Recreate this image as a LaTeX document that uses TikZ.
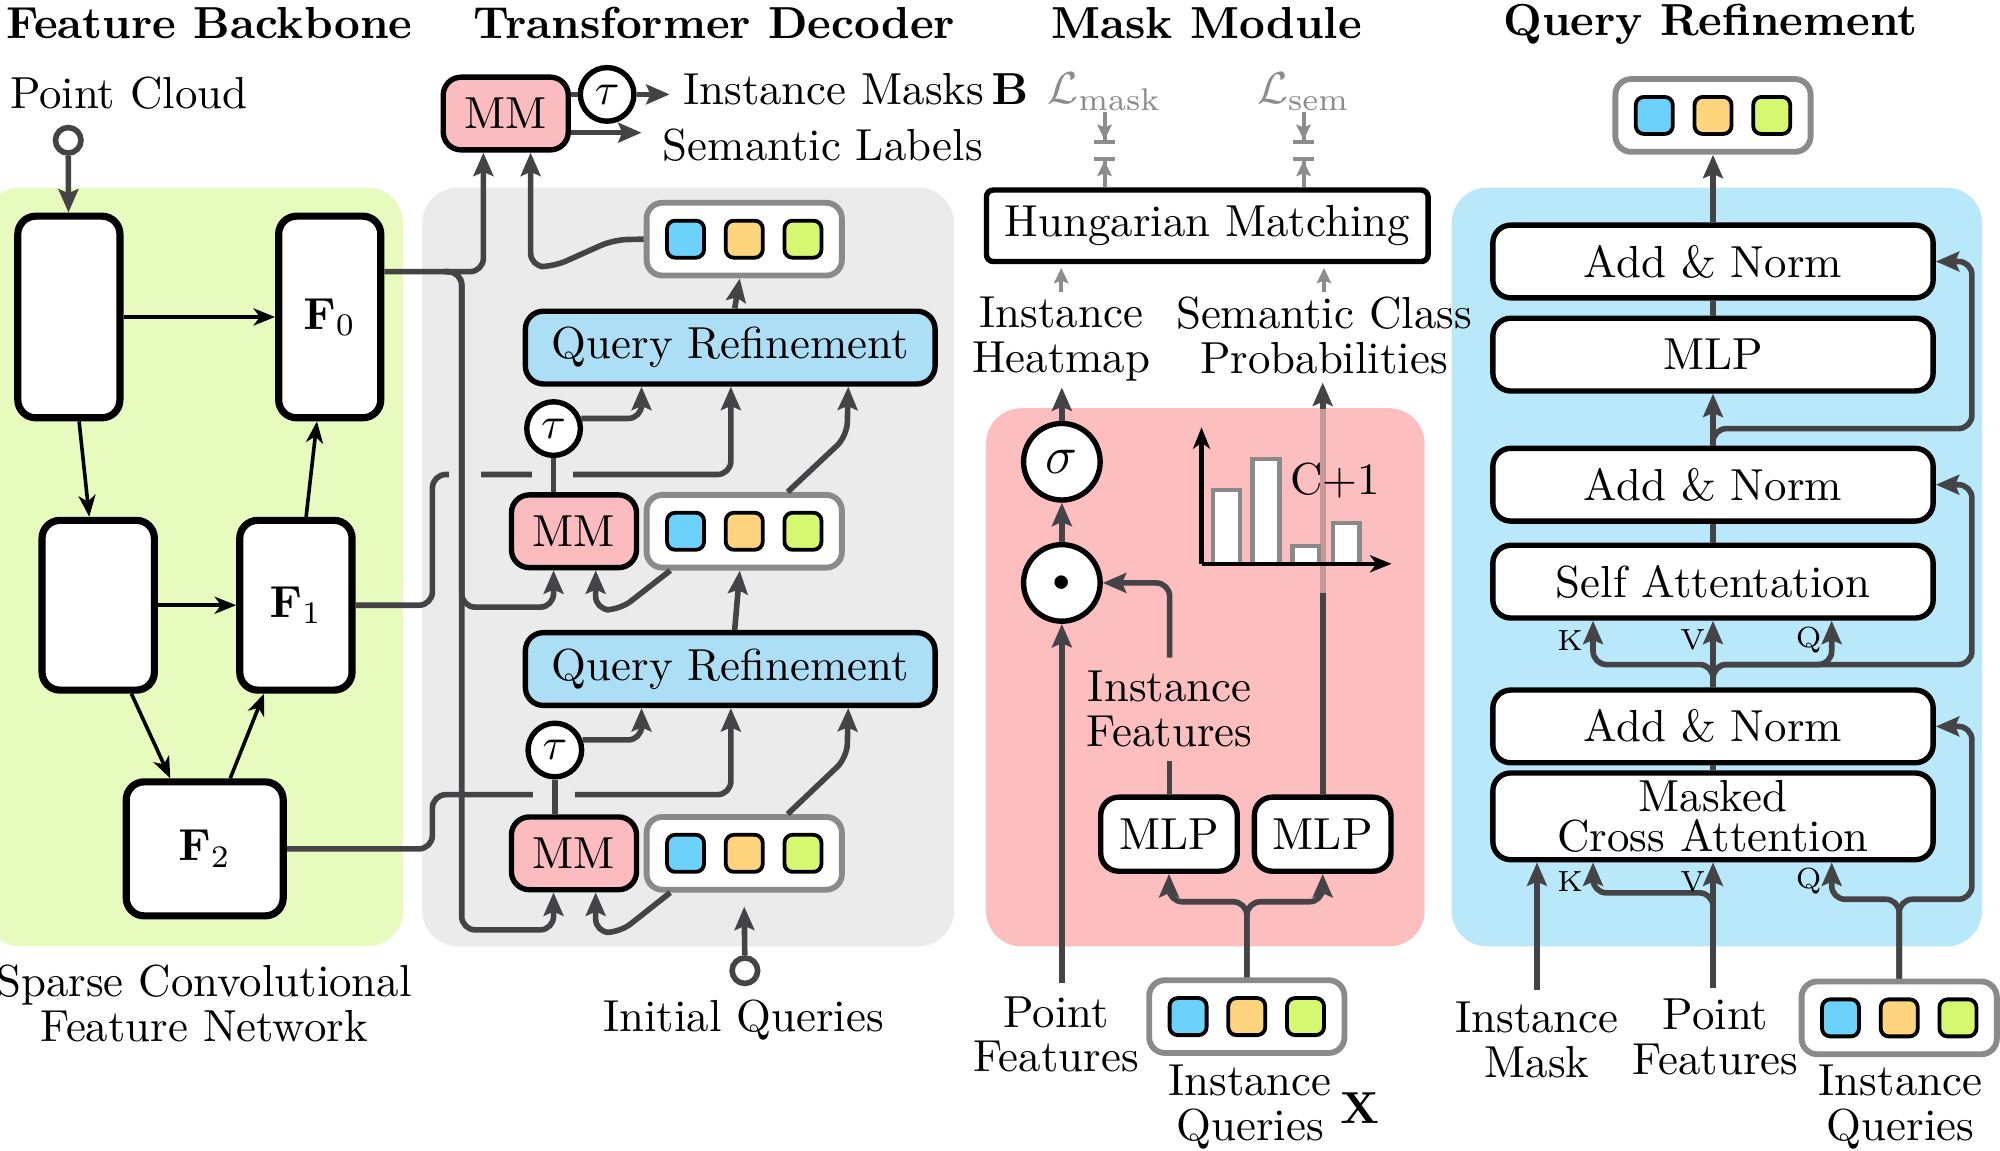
\documentclass[tikz,border=0pt]{standalone}
\usepackage{amsmath}
\usepackage{amssymb}
\usepackage{tikz}
\usetikzlibrary{arrows.meta}

\definecolor{lineg}{RGB}{68,68,70}
\definecolor{greenbg}{RGB}{232,251,190}
\definecolor{graybg}{RGB}{235,235,235}
\definecolor{pinkbg}{RGB}{252,190,190}
\definecolor{bluebg}{RGB}{186,232,251}
\definecolor{mmpink}{RGB}{250,188,190}
\definecolor{qrblue}{RGB}{172,222,246}
\definecolor{sqblue}{RGB}{108,210,252}
\definecolor{sqorange}{RGB}{254,212,124}
\definecolor{sqgreen}{RGB}{214,247,112}
\definecolor{qedge}{RGB}{138,138,138}
\definecolor{lossgray}{RGB}{140,140,140}

\newcommand{\querybox}[2]{%
  \node[qbox] (#1) at (#2) {};
  \node[sq,fill=sqblue] at ([xshift=-0.46cm]#1.center) {};
  \node[sq,fill=sqorange] at (#1.center) {};
  \node[sq,fill=sqgreen] at ([xshift=0.46cm]#1.center) {};
}

\begin{document}
\begin{tikzpicture}[x=0.01cm,y=-0.01cm,font=\fontsize{10}{10}\selectfont]
\tikzstyle{every node}+=[inner sep=0pt]
\tikzstyle{conn}=[draw=lineg,line width=1.25pt,rounded corners=3pt]
\tikzstyle{arr}=[-{Stealth[length=5.2pt,width=4.4pt,inset=0.9pt]}]
\tikzstyle{thinarr}=[draw=black,line width=0.8pt,-{Stealth[length=4.8pt,width=3.8pt,inset=1.4pt]}]
\tikzstyle{fnet}=[draw,line width=1.6pt,rounded corners=4pt,fill=white]
\tikzstyle{mmbox}=[draw,line width=1.2pt,rounded corners=4pt,fill=mmpink,minimum width=0.98cm,minimum height=0.57cm]
\tikzstyle{qrbox}=[draw,line width=1.2pt,rounded corners=4pt,fill=qrblue,minimum width=3.21cm,minimum height=0.57cm]
\tikzstyle{taunode}=[circle,draw,line width=1.2pt,fill=white,minimum size=0.42cm]
\tikzstyle{opnode}=[circle,draw,line width=1.2pt,fill=white,minimum size=0.6cm]
\tikzstyle{innode}=[circle,draw=lineg,line width=1.25pt,fill=white,minimum size=0.2cm]
\tikzstyle{qbox}=[draw=qedge,line width=1.3pt,rounded corners=3.5pt,fill=white,minimum width=1.53cm,minimum height=0.57cm]
\tikzstyle{sq}=[draw,line width=0.85pt,rounded corners=1.8pt,minimum size=0.29cm]
\tikzstyle{qlayer}=[draw,line width=1.2pt,rounded corners=4pt,fill=white,minimum width=3.45cm,minimum height=0.57cm]
\tikzstyle{mlpbox}=[draw,line width=1.2pt,rounded corners=4pt,fill=white,minimum width=1.07cm,minimum height=0.58cm]
\tikzstyle{lbl}=[align=center]
\tikzstyle{kvq}=[font=\fontsize{6.5}{7}\selectfont]
\tikzstyle{headline}=[font=\fontsize{10}{10}\selectfont\bfseries,anchor=base]
\tikzstyle{lossarr}=[draw=lossgray,line width=0.9pt,-{Stealth[length=3.4pt,width=3.2pt,inset=0.6pt]Bar[width=4.6pt]}]
\tikzstyle{histbar}=[draw=qedge,fill=white,line width=1pt]
\tikzstyle{chartaxis}=[draw=black,line width=0.95pt,-{Stealth[length=4.8pt,width=3.8pt,inset=1.4pt]}]

\useasboundingbox (0,0) rectangle (1568,902);
\fill[greenbg,rounded corners=8pt] (-12,147) rectangle (316,742);
\fill[graybg,rounded corners=8pt] (331,147) rectangle (748,742);
\fill[pinkbg,rounded corners=8pt] (773,320) rectangle (1117,742);
\fill[bluebg,rounded corners=8pt] (1138,147) rectangle (1554,742);

\node[headline] (hfb) at (164,30) {Feature Backbone};
\node[headline] (htd) at (560,30) {Transformer Decoder};
\node[headline] (hmm) at (946,30) {Mask Module};
\node[headline] (hqr) at (1341,28) {Query Refinement};

\node[fnet,minimum width=0.8cm,minimum height=1.58cm] (enc0) at (54,248.5) {};
\node[fnet,minimum width=0.8cm,minimum height=1.58cm] (f0) at (258.5,248.5) {$\mathbf{F}_0$};
\node[fnet,minimum width=0.88cm,minimum height=1.33cm] (enc1) at (77,474.5) {};
\node[fnet,minimum width=0.88cm,minimum height=1.33cm] (f1) at (232,474.5) {$\mathbf{F}_1$};
\node[fnet,minimum width=1.23cm,minimum height=1.05cm] (f2) at (160.5,665.5) {$\mathbf{F}_2$};
\node[innode] (pcin) at (53.5,110) {};
\node[anchor=base] (pctext) at (101,85) {Point Cloud};
\node[lbl] (sctext) at (160,787) {Sparse Convolutional\\Feature Network};
\draw[conn,arr] (pcin) -- (enc0);
\draw[thinarr] (enc0) -- (f0);
\draw[thinarr] ([xshift=0.08cm]enc0.south) -- ([xshift=-0.07cm]enc1.north);
\draw[thinarr] (enc1) -- (f1);
\draw[thinarr] ([xshift=0.08cm]f1.north) -- ([xshift=-0.1cm]f0.south);
\draw[thinarr] ([xshift=0.26cm]enc1.south) -- ([xshift=-0.27cm]f2.north);
\draw[thinarr] ([xshift=0.2cm]f2.north) -- ([xshift=-0.25cm]f1.south);

\node[mmbox] (mm0) at (396.5,89) {MM};
\node[taunode] (t0) at (476,74) {$\tau$};
\node[anchor=west] (imask) at (535,70) {Instance Masks\,$\mathbf{B}$};
\node[anchor=west] (slab) at (519,114) {Semantic Labels};
\querybox{qb0}{583.5,187.5}
\node[qrbox] (qr1) at (572.5,272.5) {Query Refinement};
\node[taunode] (t1) at (434,336) {$\tau$};
\node[mmbox] (mm1) at (450,416.5) {MM};
\querybox{qb1}{583.5,416.5}
\node[qrbox] (qr2) at (572.5,524.5) {Query Refinement};
\node[taunode] (t2) at (435,588) {$\tau$};
\node[mmbox] (mm2) at (450,669) {MM};
\querybox{qb2}{583.5,669}
\node[innode] (iq) at (584,761) {};
\node[anchor=base] (iqtext) at (583,809) {Initial Queries};
\coordinate (f0split) at ([xshift=0.47cm,yshift=0.355cm]f0.east);

\draw[conn] (mm0.east |- t0) -- (t0);
\draw[conn,arr] (t0) -- ([xshift=-0.1cm]t0 -| imask.west);
\draw[conn,arr] ([yshift=-0.15cm]mm0.east) -- ([xshift=-0.16cm,yshift=-0.15cm]mm0.east -| slab.west);
\draw[conn,arr] ([yshift=0.355cm]f0.east) -| ([xshift=-0.175cm]mm0.south);
\draw[conn,arr] (qb0.west) -- (481,188) -- (434,209) -| ([xshift=0.195cm]mm0.south);
\draw[conn,arr] ([xshift=0.035cm]qr1.north) -- ([xshift=-0.035cm]qb0.south);
\draw[conn,arr] ([xshift=0.035cm]qr2.north) -- ([xshift=-0.035cm]qb1.south);

\draw[conn,arr] (f1.east) -| (339,372) -| ([xshift=0.005cm]qr1.south);
\draw[conn,arr] (f2.east) -| (339,623) -| ([xshift=0.005cm]qr2.south);
\fill[graybg] (352,364) rectangle (377,380);
\fill[graybg] (417,364) rectangle (449,380);
\fill[graybg] (418,615) rectangle (451,631);

\draw[conn,arr] (f0split) -| (362,476) -| ([xshift=-0.16cm]mm1.south);
\draw[conn,arr] (f0split) -| (362,729) -| ([xshift=-0.16cm]mm2.south);

\draw[conn] (t1.south) -- (t1.south |- mm1.north);
\draw[conn,arr] (t1.20) -| ([xshift=-0.695cm]qr1.south);
\draw[conn,arr] ([xshift=0.34cm]qb1.north) -- (664,342) -- ([xshift=0.925cm]qr1.south);
\draw[conn,arr] ([xshift=-0.58cm]qb1.south) -- (486,478) -| ([xshift=0.17cm]mm1.south);

\draw[conn] (t2.south) -- (t2.south |- mm2.north);
\draw[conn,arr] (t2.20) -| ([xshift=-0.695cm]qr2.south);
\draw[conn,arr] ([xshift=0.34cm]qb2.north) -- (664,594) -- ([xshift=0.925cm]qr2.south);
\draw[conn,arr] ([xshift=-0.58cm]qb2.south) -- (486,731) -| ([xshift=0.17cm]mm2.south);
\draw[conn,arr] (iq) -- ([yshift=-0.11cm]qb2.south);

\node[text=lossgray] (lmask) at (866,72) {$\mathcal{L}_\text{mask}$};
\node[text=lossgray] (lsem) at (1022,72) {$\mathcal{L}_\text{sem}$};
\node[draw,line width=1.2pt,rounded corners=1.5pt,minimum width=3.46cm,minimum height=0.56cm] (hung) at (946.5,177) {Hungarian Matching};
\node[lbl] (heat) at (832,266) {Instance\\Heatmap};
\node[lbl] (sem) at (1038,263) {Semantic Class\\Probabilities};
\node[opnode] (sig) at (832.5,362) {\fontsize{12.5}{12.5}\selectfont$\sigma$};
\node[opnode] (dot) at (832.5,457) {\fontsize{7.5}{7.5}\selectfont$\bullet$};
\node[mlpbox] (mlpa) at (916.5,654) {MLP};
\node[mlpbox] (mlpb) at (1037,654) {MLP};
\node[lbl] (ifeat) at (917,556) {Instance\\Features};
\node[lbl] (pfm) at (828,811) {Point\\Features};
\querybox{mq}{977.5,797}
\node[lbl] (mqtext) at (980,868) {Instance\\Queries};
\node (xq) at (1066,869) {$\mathbf{X}$};

\draw[lossarr] (lmask.south) -- ([yshift=0.34cm]hung.north -| lmask);
\draw[lossarr] (hung.north -| lmask) -- ([yshift=0.24cm]hung.north -| lmask);
\draw[lossarr] (lsem.south) -- ([yshift=0.34cm]hung.north -| lsem);
\draw[lossarr] (hung.north -| lsem) -- ([yshift=0.24cm]hung.north -| lsem);
\draw[draw=lossgray,line width=0.9pt,-{Stealth[length=3.4pt,width=3.2pt,inset=0.6pt]}] ([yshift=0.03cm]heat.north) -- ([yshift=-0.03cm]hung.south -| heat);
\draw[draw=lossgray,line width=0.9pt,-{Stealth[length=3.4pt,width=3.2pt,inset=0.6pt]}] ([yshift=0.03cm]sem.north) -- ([yshift=-0.03cm]hung.south -| sem);

\draw[conn,arr] (sig) -- ([yshift=-0.04cm]sig |- heat.south);
\draw[conn,arr] (dot) -- (sig);
\draw[conn,arr] ([yshift=0.1cm]pfm.north -| dot) -- (dot);
\draw[conn] (mlpa.north -| ifeat) -- ([yshift=-0.1cm]ifeat.south);
\draw[conn,arr] ([yshift=0.1cm]ifeat.north) |- (dot);
\draw[conn,arr] (mlpb.north) -- ([yshift=-0.06cm]mlpb |- sem.south);
\fill[pinkbg,opacity=0.7] (1031,321) rectangle (1044,465);
\draw[conn,arr] (mq.north) -- (977.5,707) -| (mlpa.south);
\draw[conn,arr] (mq.north) -- (977.5,707) -| (mlpb.south);

\draw[histbar] (951,442) rectangle (972,384);
\draw[histbar] (982,442) rectangle (1003,360);
\draw[histbar] (1013.5,442) rectangle (1034,428);
\draw[histbar] (1045,442) rectangle (1066,410);
\draw[chartaxis] (942,442) -- (942,335);
\draw[chartaxis] (942,442) -- (1091,442);
\node (cplus) at (1047,377) {C+1};

\querybox{qtop}{1343,90.5}
\node[qlayer] (an3) at (1343,205) {Add \& Norm};
\node[qlayer] (mlpq) at (1343,278) {MLP};
\node[qlayer] (an2) at (1343,380) {Add \& Norm};
\node[qlayer] (sa) at (1343,456) {Self Attentation};
\node[qlayer] (an1) at (1343,569.5) {Add \& Norm};
\node[qlayer,minimum height=0.68cm,font=\fontsize{10}{9}\selectfont,align=center] (mca) at (1343,640) {Masked\\Cross Attention};
\node[lbl] (imk) at (1205,815) {Instance\\Mask};
\node[lbl] (pfq) at (1345,813) {Point\\Features};
\querybox{qq}{1489,798}
\node[lbl] (qqtext) at (1490,868) {Instance\\Queries};
\coordinate (kv1) at (1343,521);
\coordinate (pfsplit) at (1343,700);
\coordinate (qqsplit) at (1489,705);

\draw[conn,arr] (an3) -- (qtop);
\draw[conn] (an3) -- (mlpq);
\draw[conn,arr] (an2) -- (mlpq);
\draw[conn,arr] (an2.north) |- (1546,336) |- (an3.east);
\draw[conn] (sa) -- (an2);
\draw[conn,arr] (an1) -- (sa);
\draw[conn,arr] (an1.north) -- (kv1) -| ([xshift=-0.94cm]sa.south);
\draw[conn,arr] (an1.north) -- (kv1) -| ([xshift=0.93cm]sa.south);
\draw[conn,arr] (an1.north) -- (kv1) -- (1546,521) |- (an2.east);
\draw[conn] (an1) -- (mca);
\draw[conn,arr] ([yshift=0.08cm]imk.north) -- (imk.north |- mca.south);
\draw[conn,arr] ([yshift=0.08cm]pfq.north -| mca) -- (mca.south);
\draw[conn,arr] ([yshift=0.08cm]pfq.north -| mca) -- (pfsplit) -| ([xshift=-0.94cm]mca.south);
\draw[conn,arr] (qq.north) -- (qqsplit) -| ([xshift=0.93cm]mca.south);
\draw[conn,arr] (qq.north) -- (qqsplit) -- (1546,705) |- (an1.east);
\node[kvq] (k1) at (1231,502) {K};
\node[kvq] (v1) at (1327,502) {V};
\node[kvq] (q1) at (1418,502) {Q};
\node[kvq] (k2) at (1231,691) {K};
\node[kvq] (v2) at (1327,691) {V};
\node[kvq] (q2) at (1418,691) {Q};
\end{tikzpicture}
\end{document}
